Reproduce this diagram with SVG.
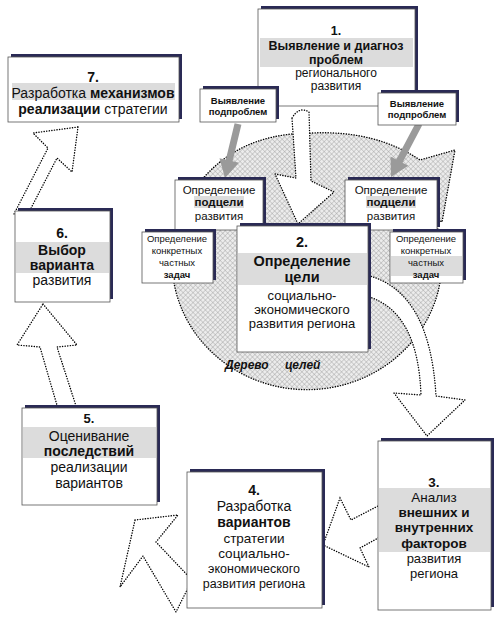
<svg xmlns="http://www.w3.org/2000/svg" width="500" height="622" viewBox="0 0 500 622">
<defs>
<pattern id="hatch" width="3.5" height="3.5" patternUnits="userSpaceOnUse" patternTransform="rotate(45)">
<rect width="3.5" height="3.5" fill="#ececec"/>
<path d="M0 0H3.5M0 0V3.5" stroke="#9c9c9c" stroke-width="0.8"/>
</pattern>
<style>
.sh{fill:#2a2a55}
.bx{fill:#fff;stroke:#555;stroke-width:0.8}
.band{fill:#dcdcdc}
.t{font-family:"Liberation Sans",Arial,sans-serif;fill:#111;text-anchor:middle}
.b{font-weight:bold}
.dot{fill:#fff;stroke:#000;stroke-width:1.4;stroke-linecap:round;stroke-dasharray:0.2 2.4}
.hat{fill:url(#hatch);stroke:#000;stroke-width:1.4;stroke-linecap:round;stroke-dasharray:0.2 2.4}
.gray{fill:#9a9a9a}
</style>
</defs>
<rect width="500" height="622" fill="#fff"/>

<g id="connectors">
<path class="hat" d="M220,162 Q250,138 292,134 L312,133 Q375,130 420,160 L455,150 L442,222 L434,217 A135 129 0 1 1 220,162 Z"/>
<path class="dot" d="M292,118 Q299,106 309,112 L311,181 L334,192 L298,224 L275,174 L296,178 Z"/>
<path class="dot" d="M366,275 Q430,290 436,396 L465,400 L427,436 L394,393 L421,395 Q418,310 366,296 Z"/>
<path class="dot" d="M380,505 L351,520 L340,498 L323,545 L369,567 L360,548 L380,537 Z"/>
<path class="dot" d="M135,520 L178,515 L156,542 L192,580 L176,612 L143,556 L120,587 Z"/>
<path class="dot" d="M43,304 L77,345 L57,347 L78,412 L59,412 L40,347 L17,345 Z"/>
<path class="dot" d="M78,127 L72,172 L57,158 L28,214 L14,214 L48,148 L33,133 Z"/>
<polygon class="gray" points="234.6,123.2 241.4,124.8 232.6,161.3 238.9,162.8 225,178 219.5,158.2 225.8,159.7"/>
<polygon class="gray" points="415.9,122.4 422.1,125.6 402.5,162.7 408.3,165.8 391,177 390.5,156.4 396.3,159.5"/>
</g>

<g id="node1">
<rect class="sh" x="261" y="6" width="157" height="97"/>
<rect class="bx" x="258" y="9" width="157" height="97"/>
<rect class="band" x="260" y="38" width="153" height="29"/>
<text class="t b" x="336" y="35" font-size="12.5">1.</text>
<text class="t b" x="336" y="50" font-size="12.5">Выявление и диагноз</text>
<text class="t b" x="336" y="63.5" font-size="12.5">проблем</text>
<text class="t" x="336" y="77" font-size="12">регионального</text>
<text class="t" x="336" y="90" font-size="12">развития</text>
</g>

<g id="sub1a">
<rect class="sh" x="203" y="86" width="76" height="33"/>
<rect class="bx" x="200" y="89" width="76" height="33"/>
<text class="t b" x="238" y="104" font-size="9.5">Выявление</text>
<text class="t b" x="238" y="115" font-size="9.5">подпроблем</text>
</g>

<g id="sub1b">
<rect class="sh" x="381" y="90" width="78" height="32"/>
<rect class="bx" x="378" y="93" width="78" height="32"/>
<text class="t b" x="417" y="107" font-size="9.5">Выявление</text>
<text class="t b" x="417" y="118" font-size="9.5">подпроблем</text>
</g>

<g id="node7">
<rect class="sh" x="11" y="54" width="171" height="65"/>
<rect class="bx" x="8" y="57" width="171" height="65"/>
<rect class="band" x="12" y="83" width="163" height="17"/>
<text class="t b" x="93" y="82" font-size="14">7.</text>
<text class="t" x="93" y="98" font-size="14">Разработка <tspan class="b">механизмов</tspan></text>
<text class="t" x="93" y="114" font-size="14"><tspan class="b">реализации</tspan> стратегии</text>
</g>

<g id="subgoalL">
<rect class="sh" x="178" y="177" width="88" height="50"/>
<rect class="bx" x="175" y="180" width="88" height="50"/>
<rect class="band" x="194" y="196" width="50" height="12"/>
<text class="t" x="219" y="194" font-size="11.5">Определение</text>
<text class="t b" x="219" y="206" font-size="11.5">подцели</text>
<text class="t" x="219" y="220" font-size="11.5">развития</text>
</g>

<g id="subgoalR">
<rect class="sh" x="348" y="177" width="92" height="50"/>
<rect class="bx" x="345" y="180" width="92" height="50"/>
<rect class="band" x="366" y="196" width="50" height="12"/>
<text class="t" x="391" y="194" font-size="11.5">Определение</text>
<text class="t b" x="391" y="206" font-size="11.5">подцели</text>
<text class="t" x="391" y="220" font-size="11.5">развития</text>
</g>

<g id="node2">
<rect class="sh" x="240" y="223" width="131" height="126"/>
<rect class="bx" x="237" y="226" width="131" height="126"/>
<rect class="band" x="238" y="253" width="129" height="32"/>
<text class="t b" x="302" y="247" font-size="14.5">2.</text>
<text class="t b" x="302" y="266" font-size="14.5">Определение</text>
<text class="t b" x="302" y="282" font-size="14.5">цели</text>
<text class="t" x="302" y="300" font-size="13">социально-</text>
<text class="t" x="302" y="314" font-size="13">экономического</text>
<text class="t" x="302" y="328" font-size="13">развития региона</text>
</g>

<g id="taskL">
<rect class="sh" x="145" y="229" width="71" height="51"/>
<rect class="bx" x="142" y="232" width="71" height="51"/>
<text class="t" x="177" y="242" font-size="9.5">Определение</text>
<text class="t" x="177" y="254" font-size="9.5">конкретных</text>
<text class="t" x="177" y="266" font-size="9.5">частных</text>
<text class="t b" x="177" y="278" font-size="9.5">задач</text>
</g>

<g id="taskR">
<rect class="sh" x="393" y="229" width="73" height="51"/>
<rect class="bx" x="390" y="232" width="73" height="51"/>
<rect class="band" x="391" y="256" width="71" height="20"/>
<text class="t" x="426" y="242" font-size="9.5">Определение</text>
<text class="t" x="426" y="254" font-size="9.5">конкретных</text>
<text class="t" x="426" y="266" font-size="9.5">частных</text>
<text class="t b" x="426" y="278" font-size="9.5">задач</text>
</g>

<g id="tree-label">
<text x="225" y="369" font-family="Liberation Sans,Arial,sans-serif" font-size="12" font-weight="bold" font-style="italic" fill="#111">Дерево</text>
<text x="285" y="369" font-family="Liberation Sans,Arial,sans-serif" font-size="12" font-weight="bold" font-style="italic" fill="#111">целей</text>
</g>

<g id="node6">
<rect class="sh" x="18" y="208" width="95" height="91"/>
<rect class="bx" x="15" y="211" width="95" height="91"/>
<rect class="band" x="16" y="242" width="93" height="31"/>
<text class="t b" x="62" y="238" font-size="14">6.</text>
<text class="t b" x="62" y="255" font-size="14">Выбор</text>
<text class="t b" x="62" y="270" font-size="14">варианта</text>
<text class="t" x="62" y="285" font-size="14">развития</text>
</g>

<g id="node5">
<rect class="sh" x="25" y="405" width="135" height="97"/>
<rect class="bx" x="22" y="408" width="135" height="97"/>
<rect class="band" x="23" y="427" width="133" height="31"/>
<text class="t b" x="89" y="423" font-size="13">5.</text>
<text class="t" x="89" y="441" font-size="14">Оценивание</text>
<text class="t b" x="89" y="456" font-size="14">последствий</text>
<text class="t" x="89" y="472" font-size="14">реализации</text>
<text class="t" x="89" y="488" font-size="14">вариантов</text>
</g>

<g id="node4">
<rect class="sh" x="190" y="469" width="135" height="136"/>
<rect class="bx" x="187" y="472" width="135" height="136"/>
<text class="t b" x="254" y="495" font-size="14">4.</text>
<text class="t" x="254" y="511" font-size="14">Разработка</text>
<text class="t b" x="254" y="527" font-size="14">вариантов</text>
<text class="t" x="254" y="543" font-size="13.5">стратегии</text>
<text class="t" x="254" y="558" font-size="13.5">социально-</text>
<text class="t" x="254" y="573" font-size="12.5">экономического</text>
<text class="t" x="254" y="588" font-size="12.5">развития региона</text>
</g>

<g id="node3">
<rect class="sh" x="381" y="438" width="113" height="169"/>
<rect class="bx" x="378" y="441" width="113" height="169"/>
<rect class="band" x="379" y="488" width="111" height="64"/>
<text class="t b" x="434" y="487" font-size="13.5">3.</text>
<text class="t" x="434" y="502" font-size="13.5">Анализ</text>
<text class="t b" x="434" y="517" font-size="13.5">внешних и</text>
<text class="t b" x="434" y="532" font-size="13.5">внутренних</text>
<text class="t b" x="434" y="548" font-size="13.5">факторов</text>
<text class="t" x="434" y="563" font-size="13">развития</text>
<text class="t" x="434" y="578" font-size="13">региона</text>
</g>
</svg>
